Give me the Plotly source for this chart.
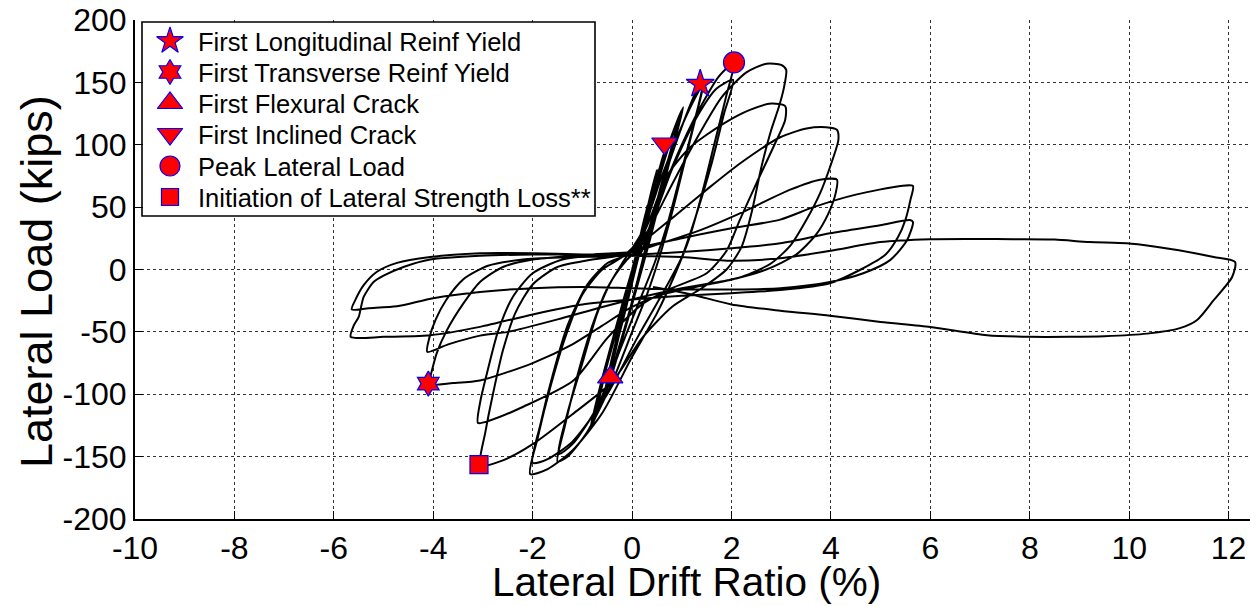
import plotly.graph_objects as go

# ---------------- data (drift %, lateral load kips) ----------------
drift_elastic = [0, 0.08, 0.15, 0.1, 0.03, -0.04, -0.1, -0.05, 0.01,
                 0.09, 0.16, 0.1, 0.03, -0.05, -0.11, -0.05, 0.02,
                 0.1, 0.2, 0.3, 0.22, 0.12, 0.03, -0.08, -0.2, -0.1, 0.0, 0.05,
                 0.18, 0.31, 0.22, 0.1, 0.0, -0.1, -0.21, -0.1, 0.02,
                 0.15, 0.3, 0.5, 0.4, 0.25, 0.1, -0.05, -0.2, -0.35, -0.22, -0.08, 0.05,
                 0.18, 0.32, 0.51, 0.38, 0.22, 0.08, -0.08, -0.22, -0.36, -0.2, -0.05, 0.06]
load_elastic = [0, 12, 25, 12, 0, -10, -20, -10, 0,
                14, 27, 13, 0, -12, -22, -10, 0,
                15, 33, 50, 33, 15, 0, -20, -42, -22, -5, 3,
                28, 52, 32, 12, -4, -24, -44, -22, 0,
                20, 48, 80, 60, 35, 10, -15, -42, -68, -45, -18, 2,
                22, 48, 79, 55, 30, 5, -20, -45, -69, -40, -12, 5]

drift_1pct = [0.2, 0.4, 0.58, 0.7, 0.55, 0.35, 0.15, 0.0, -0.15, -0.32, -0.45, -0.35, -0.18, -0.02, 0.1,
              0.25, 0.45, 0.6, 0.72, 0.56, 0.34, 0.14, -0.02, -0.18, -0.35, -0.5, -0.36, -0.2, -0.04, 0.08,
              0.22, 0.45, 0.62, 0.68, 0.5, 0.3, 0.1, -0.06, -0.22, -0.4, -0.55, -0.4, -0.22, -0.06, 0.06,
              0.25, 0.5, 0.75, 1.0, 0.82, 0.58, 0.35, 0.15, -0.1, -0.4, -0.72, -0.55, -0.3, -0.08, 0.1,
              0.28, 0.52, 0.78, 0.95, 0.78, 0.52, 0.3, 0.1, -0.15, -0.42, -0.78, -0.58, -0.32, -0.1, 0.06,
              0.3, 0.55, 0.8, 1.03, 0.85, 0.6, 0.36, 0.14, -0.12, -0.45, -0.85, -0.62, -0.35, -0.1, 0.08]
load_1pct = [28, 60, 85, 100, 78, 48, 15, -10, -35, -62, -86, -62, -32, -5, 10,
             35, 65, 88, 102, 78, 44, 12, -14, -40, -66, -92, -64, -34, -6, 10,
             30, 66, 90, 98, 70, 40, 8, -18, -44, -72, -98, -70, -40, -10, 6,
             30, 68, 102, 128, 100, 62, 25, -5, -40, -80, -116, -84, -46, -12, 10,
             36, 72, 104, 122, 96, 58, 22, -10, -48, -86, -122, -88, -50, -16, 4,
             38, 74, 106, 130, 102, 62, 24, -8, -45, -88, -129, -90, -50, -14, 8]

drift_15pct = [0.2, 0.5, 0.8, 1.1, 1.33, 1.45, 1.3, 1.05, 0.8, 0.55, 0.3, 0.0, -0.4, -0.9, -1.3, -1.5,
               -1.35, -1.1, -0.8, -0.5, -0.2,
               0.2, 0.6, 1.0, 1.3, 1.42, 1.25, 1.0, 0.7, 0.45, 0.15, -0.2, -0.7, -1.2, -1.48,
               -1.3, -1.0, -0.7, -0.4, -0.1]
load_15pct = [15, 55, 92, 125, 146, 152, 125, 85, 45, 10, -20, -50, -90, -130, -150, -154,
              -125, -85, -45, -15, 5,
              30, 75, 115, 140, 148, 118, 80, 35, 5, -25, -60, -110, -140, -148,
              -115, -75, -35, -8, 8]

drift_2pct = [0.2, 0.6, 1.0, 1.4, 1.75, 2.05, 1.9, 1.65, 1.4, 1.15, 0.85, 0.5, 0.0, -0.6, -1.2, -1.7, -2.05,
              -1.9, -1.65, -1.35, -1.0, -0.6, -0.2,
              0.3, 0.8, 1.3, 1.7, 2.03, 1.85, 1.6, 1.3, 1.0, 0.6, 0.1, -0.5, -1.2, -1.7, -2.0,
              -1.85, -1.6, -1.3, -0.9, -0.5, -0.1]
load_2pct = [20, 62, 100, 132, 155, 166, 140, 100, 60, 25, -5, -35, -70, -115, -145, -160, -164,
             -135, -95, -55, -20, 0, 10,
             30, 80, 122, 145, 152, 125, 85, 45, 10, -20, -55, -100, -138, -152, -155,
             -125, -85, -45, -12, 5, 12]

drift_3pct = [0.3, 0.8, 1.3, 1.8, 2.3, 2.7, 3.0, 3.1,
              3.05, 2.95, 2.8, 2.6, 2.4, 2.2, 1.9, 1.4, 0.8, 0.2, -0.4, -1.2, -2.0, -2.6, -3.05,
              -2.95, -2.8, -2.6, -2.35, -2.0, -1.5, -0.8, 0.0,
              0.3, 0.7, 1.17, 1.84, 2.37, 2.8, 3.08,
              3.08, 2.84, 2.5, 2.17, 1.9, 1.5, 0.8, 0.2, -0.5, -1.18, -2.19, -2.86, -3.1,
              -3.05, -2.9, -2.7, -2.4, -2.0, -1.4, -0.6, 0.0]
load_3pct = [30, 68, 105, 138, 158, 165, 164, 160,
             145, 130, 112, 82, 45, 18, 0, -15, -30, -55, -90, -116, -140, -153, -157,
             -130, -100, -65, -35, -12, 2, 8, 14,
             35, 75, 98, 117, 128, 133, 131,
             120, 98, 69, 40, 15, -3, -15, -28, -55, -89, -110, -121, -123,
             -105, -80, -50, -22, -3, 8, 12, 14]

drift_4pct = [0.4, 0.83, 1.5, 2.17, 2.98, 3.51, 3.9, 4.12,
              4.15, 3.98, 3.78, 3.51, 3.2, 2.8, 2.2, 1.4, 0.6, 0.0, -0.6, -1.2, -2.0, -3.06, -3.6, -4.1,
              -4.06, -3.93, -3.73, -3.39, -3.06, -2.6, -2.0, -1.2, -0.4, 0.0,
              0.5, 1.4, 2.17, 3.18, 3.78, 4.12,
              4.1, 3.95, 3.7, 3.3, 2.7, 2.0, 1.0, 0.2, -0.6, -1.5, -2.5, -3.06, -3.7, -4.12,
              -4.08, -3.95, -3.75, -3.4, -2.9, -2.2, -1.2, 0.0]
load_4pct = [28, 42, 64, 85, 106, 113, 114, 112,
             104, 82, 61, 40, 20, 5, -6, -13, -20, -30, -45, -60, -75, -89, -91, -92,
             -86, -67, -49, -27, -10, 2, 8, 11, 13, 14,
             20, 32, 45, 64, 72, 72,
             62, 45, 28, 12, 0, -8, -15, -22, -30, -40, -50, -53, -60, -66,
             -55, -40, -25, -8, 3, 8, 10, 12]

drift_56pct = [0.16, 1.0, 2.0, 2.98, 3.65, 4.5, 5.4, 5.65,
               5.6, 5.5, 5.35, 5.1, 4.6, 3.98, 2.98, 2.0, 1.0, 0.0, -1.0, -2.0, -3.06, -4.06, -5.0, -5.66,
               -5.6, -5.5, -5.4, -5.2, -5.0, -4.6, -4.06, -3.06, -2.0, -1.0, 0.0,
               1.0, 2.0, 2.98, 3.98, 4.99, 5.59, 5.65,
               5.53, 5.19, 4.65, 3.98, 2.98, 2.0, 1.0, 0.0, -1.0, -2.0, -3.06, -4.0, -4.73, -5.3, -5.64,
               -5.57, -5.4, -5.14, -4.73, -4.06, -3.06, -2.0, -1.0, 0.0, 1.0]
load_56pct = [17, 25, 33, 40, 50, 60, 67, 67,
              56, 40, 26, 12, 0, -11, -16.5, -19, -21, -24, -28, -36, -46, -52.7, -54, -54,
              -45, -38, -22, -10, -5, 2, 8, 11, 12, 12, 12,
              14, 17, 21, 29, 35.5, 39.6, 38,
              23.5, 7.5, -3, -10, -15, -16, -16, -15, -14, -15, -18, -23, -29.5, -31, -32,
              -24.6, -12.6, -2, 5.3, 10, 13, 13, 12, 11, 10]

drift_12pct = [2.0, 2.98, 4.0, 4.99, 6.0, 7.0, 7.67, 8.5, 9.2, 9.95, 10.5, 11.0, 11.7, 12.13,
               12.07, 11.7, 11.36, 11.02, 10.36, 9.5, 8.8, 8.0, 7.14, 6.0, 5.0, 3.98, 2.98, 2.0, 1.2, 0.42]
load_12pct = [7, 9, 15, 22, 24.3, 24.5, 24.3, 24, 22, 21, 18.5, 15.5, 10, 6,
              -6, -24.6, -40.7, -47, -51.4, -53.5, -54, -54, -52.7, -46, -42, -37, -33, -28, -20, -14]

event_names = ["First Longitudinal Reinf Yield", "First Transverse Reinf Yield",
               "First Flexural Crack", "First Inclined Crack",
               "Peak Lateral Load", "Initiation of Lateral Strength Loss**"]
event_drift = [1.37, -4.1, -0.44, 0.65, 2.05, -3.08]
event_load = [148.7, -91.5, -86.4, 101, 166, -156.4]
event_symbols = ["star", "hexagram", "triangle-up", "triangle-down", "circle", "square"]
event_sizes = [21, 19, 22, 22, 21, 18]

x_ticks = [-10, -8, -6, -4, -2, 0, 2, 4, 6, 8, 10, 12]
y_ticks = [-200, -150, -100, -50, 0, 50, 100, 150, 200]
X_RANGE = [-10, 12.43]
Y_RANGE = [-200, 200]

# ---------------- layout geometry (page pixels) ----------------
PLOT_L, PLOT_R, PLOT_T, PLOT_B = 135, 1250, 20, 519
LEG_BOX = (142, 595, 22, 216)           # left, right, top, bottom (px)
LEG_SYM_X, LEG_TEXT_X = 170, 196
LEG_ROWS = [41, 72, 103, 134, 166, 197]
LEG_SYM_SIZES = [20, 19, 22, 22, 20, 17]

FONT = "Liberation Sans, Arial, sans-serif"
W = PLOT_R - PLOT_L
H = PLOT_B - PLOT_T


def px_x(px):
    return X_RANGE[0] + (px - PLOT_L) / W * (X_RANGE[1] - X_RANGE[0])


def px_y(py):
    return Y_RANGE[1] - (py - PLOT_T) / H * (Y_RANGE[1] - Y_RANGE[0])


drift_all = (drift_elastic + drift_1pct + drift_15pct + drift_2pct + drift_3pct
             + drift_4pct + drift_56pct + drift_12pct)
load_all = (load_elastic + load_1pct + load_15pct + load_2pct + load_3pct
            + load_4pct + load_56pct + load_12pct)

fig = go.Figure()
fig.add_trace(go.Scatter(
    x=drift_all, y=load_all, mode="lines",
    line=dict(color="black", width=2, shape="spline", smoothing=0.7),
    showlegend=False, hoverinfo="skip"))

fig.add_trace(go.Scatter(
    x=event_drift, y=event_load, mode="markers", showlegend=False, hoverinfo="skip",
    marker=dict(symbol=event_symbols, size=event_sizes, color="#ff0000", opacity=1,
                line=dict(color="#0000ff", width=1.2))))

# hand-built legend (box + glyphs + labels) placed at pixel positions
fig.add_shape(type="rect", xref="x", yref="y",
              x0=px_x(LEG_BOX[0]), x1=px_x(LEG_BOX[1]),
              y0=px_y(LEG_BOX[2]), y1=px_y(LEG_BOX[3]),
              line=dict(color="black", width=1.6), fillcolor="white", layer="between")

fig.add_trace(go.Scatter(
    x=[px_x(LEG_SYM_X)] * len(event_names), y=[px_y(r) for r in LEG_ROWS], mode="markers",
    showlegend=False, hoverinfo="skip",
    marker=dict(symbol=event_symbols, size=LEG_SYM_SIZES, color="#ff0000", opacity=1,
                line=dict(color="#0000ff", width=1.2))))

annotations = []
for name, yr in zip(event_names, LEG_ROWS):
    annotations.append(dict(text=name, x=px_x(LEG_TEXT_X), y=px_y(yr + 1), xref="x", yref="y",
                            xanchor="left", yanchor="middle", showarrow=False,
                            font=dict(family=FONT, size=25.5, color="black")))

annotations.append(dict(text="Lateral Drift Ratio (%)", x=(686 - PLOT_L) / W, y=(PLOT_B - 582) / H,
                        xref="paper", yref="paper", xanchor="center", yanchor="middle",
                        showarrow=False, font=dict(family=FONT, size=40.5, color="black")))
annotations.append(dict(text="Lateral Load (kips)", x=(36 - PLOT_L) / W, y=(PLOT_B - 282) / H,
                        xref="paper", yref="paper", xanchor="center", yanchor="middle",
                        textangle=-90, showarrow=False,
                        font=dict(family=FONT, size=45, color="black")))

axis_common = dict(showgrid=True, gridcolor="#333333", gridwidth=1, griddash="dot",
                   zeroline=False, showline=True, linecolor="black", linewidth=2,
                   ticks="inside", ticklen=8, tickcolor="black", tickwidth=1,
                   tickfont=dict(family=FONT, size=32, color="black"))

fig.update_layout(
    width=1250, height=606,
    margin=dict(l=PLOT_L, r=1250 - PLOT_R, t=PLOT_T, b=606 - PLOT_B),
    paper_bgcolor="white", plot_bgcolor="white",
    font=dict(family=FONT, color="black"),
    showlegend=False,
    annotations=annotations,
    xaxis=dict(range=X_RANGE, tickvals=x_ticks, ticktext=[str(v) for v in x_ticks], **axis_common),
    yaxis=dict(range=Y_RANGE, tickvals=y_ticks, ticktext=[str(v) for v in y_ticks], **axis_common),
)

fig.write_html("out.html")
